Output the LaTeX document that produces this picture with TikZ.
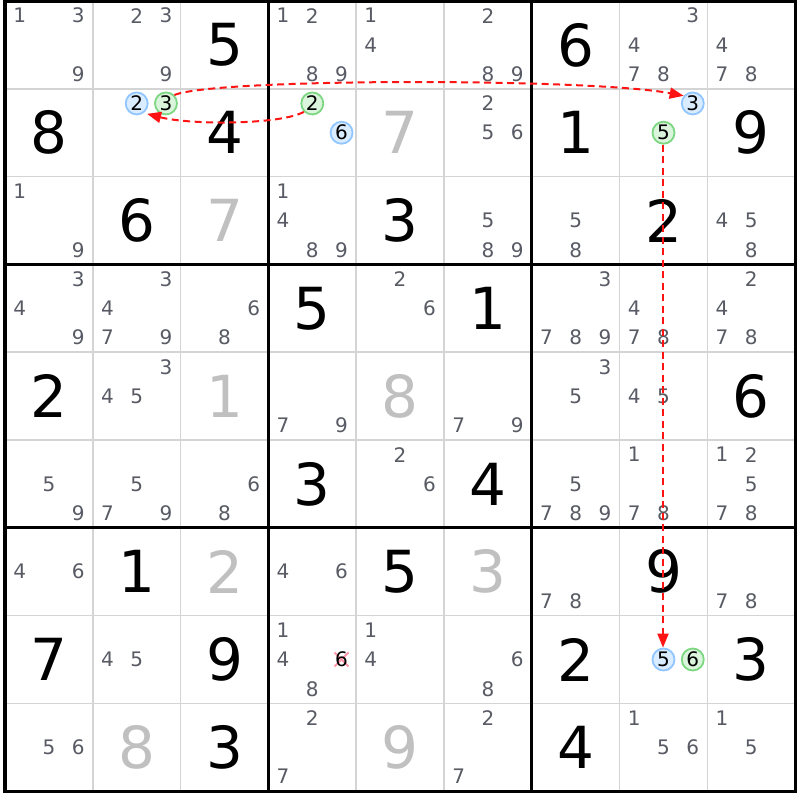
\documentclass[tikz,border=0pt]{standalone}
\usepackage{fontspec}
\setmainfont{DejaVu Sans}
\usetikzlibrary{arrows.meta}
\definecolor{candgray}{RGB}{88,90,100}
\definecolor{solvedgray}{RGB}{192,192,192}
\definecolor{thingrid}{RGB}{212,212,212}
\definecolor{bluefill}{RGB}{218,236,255}
\definecolor{blueline}{RGB}{145,198,255}
\definecolor{greenfill}{RGB}{218,245,220}
\definecolor{greenline}{RGB}{125,215,130}
\definecolor{linkred}{RGB}{255,20,20}
\definecolor{crosspink}{RGB}{255,150,170}
\tikzset{
  cand/.style={inner sep=0pt,text=candgray,font=\fontsize{20}{20}\selectfont},
  givendigit/.style={inner sep=0pt,text=black,font=\fontsize{58}{58}\selectfont},
  solveddigit/.style={inner sep=0pt,text=solvedgray,font=\fontsize{58}{58}\selectfont},
  bluecirc/.style={circle,draw=blueline,fill=bluefill,line width=1.8pt,minimum size=22pt,inner sep=0pt,text=black,font=\fontsize{20}{20}\selectfont},
  greencirc/.style={circle,draw=greenline,fill=greenfill,line width=1.8pt,minimum size=22pt,inner sep=0pt,text=black,font=\fontsize{20}{20}\selectfont},
  link/.style={draw=linkred,line width=2pt,dash pattern=on 7pt off 4.5pt,-{Triangle[length=14pt,width=11pt]}},
}
\newcommand\candpos[3]{%
  \pgfmathsetmacro\cx{5+(#2-1)*87.8+(2*mod(#3-1,3)+1)*87.8/6}%
  \pgfmathsetmacro\cy{1+(#1-1)*87.8+(2*int((#3-1)/3)+1)*87.8/6}}
\newcommand\cands[3]{%
  \foreach \d in {#3}{%
    \candpos{#1}{#2}{\d}%
    \node[cand] (k#1#2\d) at (\cx,\cy) {\d};}}
\newcommand\given[3]{\node[givendigit] (g#1#2) at ({5+(#2-0.5)*87.8},{1+(#1-0.5)*87.8}) {#3};}
\newcommand\solved[3]{\node[solveddigit] (s#1#2) at ({5+(#2-0.5)*87.8},{1+(#1-0.5)*87.8}) {#3};}
\newcommand\ccirc[5]{% row col digit style name
  \candpos{#1}{#2}{#3}%
  \node[#4] (#5) at (\cx,\cy) {#3};}
\begin{document}
\begin{tikzpicture}[x=1pt,y=-1pt]
\useasboundingbox (0,0) rectangle (800,800);
\fill[white] (0,0) rectangle (800,800);
% thin grid
\foreach \i in {1,2,4,5,7,8}{
  \draw[thingrid,line width=1.5pt] ({5+\i*87.8},1) -- ({5+\i*87.8},791.2);
  \draw[thingrid,line width=1.5pt] (5,{1+\i*87.8}) -- (795.2,{1+\i*87.8});
}
% thick grid
\foreach \i in {3,6}{
  \draw[black,line width=3pt] ({5+\i*87.8},1) -- ({5+\i*87.8},791.2);
  \draw[black,line width=3pt] (5,{1+\i*87.8}) -- (795.2,{1+\i*87.8});
}
\draw[black,line width=3.2pt] (5,1) rectangle (795.2,791.2);

% row 1
\cands{1}{1}{1,3,9}
\cands{1}{2}{2,3,9}
\given{1}{3}{5}
\cands{1}{4}{1,2,8,9}
\cands{1}{5}{1,4}
\cands{1}{6}{2,8,9}
\given{1}{7}{6}
\cands{1}{8}{3,4,7,8}
\cands{1}{9}{4,7,8}
% row 2
\given{2}{1}{8}
\ccirc{2}{2}{2}{bluecirc}{cb22}
\ccirc{2}{2}{3}{greencirc}{cg22}
\given{2}{3}{4}
\ccirc{2}{4}{2}{greencirc}{cg24}
\ccirc{2}{4}{6}{bluecirc}{cb24}
\solved{2}{5}{7}
\cands{2}{6}{2,5,6}
\given{2}{7}{1}
\ccirc{2}{8}{3}{bluecirc}{cb28}
\ccirc{2}{8}{5}{greencirc}{cg28}
\given{2}{9}{9}
% row 3
\cands{3}{1}{1,9}
\given{3}{2}{6}
\solved{3}{3}{7}
\cands{3}{4}{1,4,8,9}
\given{3}{5}{3}
\cands{3}{6}{5,8,9}
\cands{3}{7}{5,8}
\given{3}{8}{2}
\cands{3}{9}{4,5,8}
% row 4
\cands{4}{1}{3,4,9}
\cands{4}{2}{3,4,7,9}
\cands{4}{3}{6,8}
\given{4}{4}{5}
\cands{4}{5}{2,6}
\given{4}{6}{1}
\cands{4}{7}{3,7,8,9}
\cands{4}{8}{4,7,8}
\cands{4}{9}{2,4,7,8}
% row 5
\given{5}{1}{2}
\cands{5}{2}{3,4,5}
\solved{5}{3}{1}
\cands{5}{4}{7,9}
\solved{5}{5}{8}
\cands{5}{6}{7,9}
\cands{5}{7}{3,5}
\cands{5}{8}{4,5}
\given{5}{9}{6}
% row 6
\cands{6}{1}{5,9}
\cands{6}{2}{5,7,9}
\cands{6}{3}{6,8}
\given{6}{4}{3}
\cands{6}{5}{2,6}
\given{6}{6}{4}
\cands{6}{7}{5,7,8,9}
\cands{6}{8}{1,7,8}
\cands{6}{9}{1,2,5,7,8}
% row 7
\cands{7}{1}{4,6}
\given{7}{2}{1}
\solved{7}{3}{2}
\cands{7}{4}{4,6}
\given{7}{5}{5}
\solved{7}{6}{3}
\cands{7}{7}{7,8}
\given{7}{8}{9}
\cands{7}{9}{7,8}
% row 8
\given{8}{1}{7}
\cands{8}{2}{4,5}
\given{8}{3}{9}
\cands{8}{4}{1,4,8}
\candpos{8}{4}{6}
\draw[crosspink,line width=2pt] ({\cx-7},{\cy-7}) -- ({\cx+7},{\cy+7});
\draw[crosspink,line width=2pt] ({\cx-7},{\cy+7}) -- ({\cx+7},{\cy-7});
\node[cand,text=black] (x846) at (\cx,\cy) {6};
\cands{8}{5}{1,4}
\cands{8}{6}{6,8}
\given{8}{7}{2}
\ccirc{8}{8}{5}{bluecirc}{cb88}
\ccirc{8}{8}{6}{greencirc}{cg88}
\given{8}{9}{3}
% row 9
\cands{9}{1}{5,6}
\solved{9}{2}{8}
\given{9}{3}{3}
\cands{9}{4}{2,7}
\solved{9}{5}{9}
\cands{9}{6}{2,7}
\given{9}{7}{4}
\cands{9}{8}{1,5,6}
\cands{9}{9}{1,5}

% links
\draw[link] (cg24.225) .. controls (280,125) and (190,125) .. ([shift={(2,2)}]cb22.-45);
\draw[link] (cg22.45) .. controls (215,78) and (590,78) .. (cb28.140);
\draw[link] ([xshift=-0.5pt]cg28.south) -- ([xshift=-0.5pt]cb88.north);
\end{tikzpicture}
\end{document}
